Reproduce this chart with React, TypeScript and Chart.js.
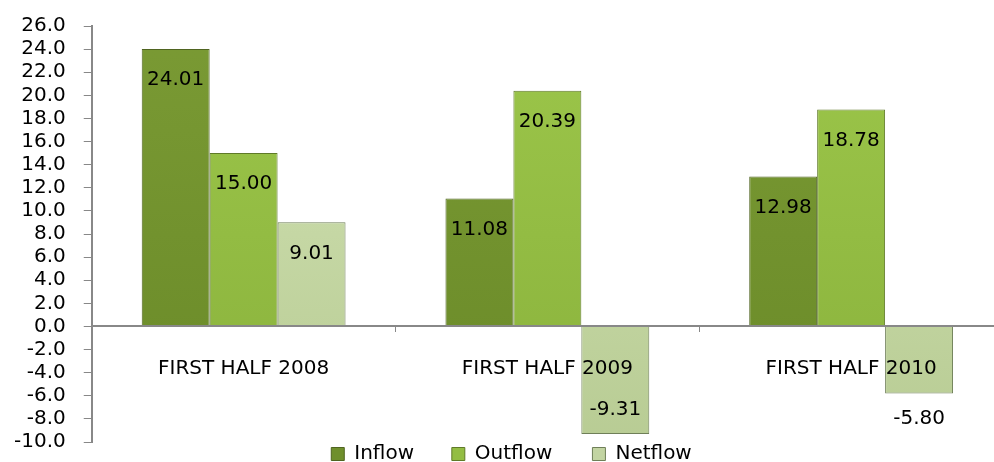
import React, { useEffect, useRef } from "react";
import { Chart, registerables } from "chart.js";

Chart.register(...registerables);

const categories = ["FIRST HALF 2008", "FIRST HALF 2009", "FIRST HALF 2010"];
const inflow = [24.01, 11.08, 12.98];
const outflow = [15.0, 20.39, 18.78];
const netflow = [9.01, -9.31, -5.8];
const seriesNames = ["Inflow", "Outflow", "Netflow"];

const FONT = "'DejaVu Sans', sans-serif";

function makeGrad(ctx: any, chart: any, stops: string[]) {
  const area = chart.chartArea;
  if (!area) return stops[1];
  const g = ctx.createLinearGradient(0, area.top, 0, area.bottom);
  g.addColorStop(0, stops[0]);
  g.addColorStop(1, stops[1]);
  return g;
}

const labelPlugin = {
  id: "barLabels",
  beforeDraw(chart: any) {
    const lg = chart.legend;
    if (lg && !lg._shifted) {
      lg.left += 12;
      lg.right += 12;
      lg._shifted = true;
    }
  },
  afterDatasetsDraw(chart: any) {
    const ctx = chart.ctx;
    ctx.save();
    ctx.font = `20px ${FONT}`;
    ctx.fillStyle = "#000";
    ctx.textAlign = "center";
    ctx.textBaseline = "middle";
    chart.data.datasets.forEach((ds: any, di: number) => {
      const meta = chart.getDatasetMeta(di);
      meta.data.forEach((bar: any, i: number) => {
        const v = ds.data[i] as number;
        const txt = v.toFixed(2);
        const h = Math.abs(bar.base - bar.y);
        let y: number;
        if (v >= 0) y = bar.y + 31;
        else y = h > 85 ? bar.y - 24 : bar.y + 25;
        ctx.fillText(txt, bar.x, y);
      });
    });
    ctx.restore();
  },
};

const legendFill = ["#6f8f2c", "#93bd43", "#c2d4a2"];
const legendStroke = ["#4f6420", "#5f7a28", "#6f7f58"];
const legendPad = [
  "\u00a0\u00a0\u00a0\u00a0\u00a0\u2009",
  "\u00a0\u00a0\u00a0\u00a0\u00a0\u00a0",
  "",
];

export default function App() {
  const ref = useRef<HTMLCanvasElement>(null);
  useEffect(() => {
    const canvas = ref.current!;
    const common = { borderWidth: 1, categoryPercentage: 0.671, barPercentage: 1 };
    const chart = new Chart(canvas, {
      type: "bar",
      data: {
        labels: categories,
        datasets: [
          {
            label: seriesNames[0],
            data: inflow,
            backgroundColor: (c: any) => makeGrad(c.chart.ctx, c.chart, ["#7a9a34", "#6a8a28"]),
            borderColor: "#4f6420",
            ...common,
          },
          {
            label: seriesNames[1],
            data: outflow,
            backgroundColor: (c: any) => makeGrad(c.chart.ctx, c.chart, ["#9cc64a", "#8ab23c"]),
            borderColor: "#5f7a28",
            ...common,
          },
          {
            label: seriesNames[2],
            data: netflow,
            backgroundColor: (c: any) => makeGrad(c.chart.ctx, c.chart, ["#d2e2b4", "#b8cc94"]),
            borderColor: "#6f7f58",
            ...common,
          },
        ],
      },
      options: {
        animation: false,
        responsive: false,
        maintainAspectRatio: false,
        layout: { padding: { top: 13, left: -4, right: 0, bottom: -10 } },
        plugins: {
          tooltip: { enabled: false },
          legend: {
            position: "bottom",
            labels: {
              font: { family: FONT, size: 20 },
              color: "#000",
              boxWidth: 13,
              boxHeight: 13,
              padding: 2,
              generateLabels: (ch: any) =>
                ch.data.datasets.map((ds: any, i: number) => ({
                  text: ds.label + legendPad[i],
                  fillStyle: legendFill[i],
                  strokeStyle: legendStroke[i],
                  lineWidth: 1,
                  datasetIndex: i,
                  hidden: false,
                })),
            },
          },
        },
        scales: {
          x: {
            position: { y: 0 } as any,
            grid: { display: true, drawOnChartArea: false, tickLength: 5, color: "#888", offset: true, z: 1 },
            border: { display: true, color: "#888", width: 2, z: 1 },
            ticks: { font: { family: FONT, size: 20 }, color: "#000", padding: 25, autoSkip: false, maxRotation: 0, z: 1 },
          } as any,
          y: {
            min: -10,
            max: 26,
            grid: { display: true, drawOnChartArea: false, tickLength: 8, color: "#888" },
            border: { display: true, color: "#888", width: 2 },
            ticks: {
              stepSize: 2,
              autoSkip: false,
              font: { family: FONT, size: 20 },
              color: "#000",
              padding: 18,
              callback: (v: any) => Number(v).toFixed(1),
            },
          },
        },
      } as any,
      plugins: [labelPlugin],
    });
    return () => chart.destroy();
  }, []);
  return (
    <div style={{ position: "fixed", left: 0, top: 0, width: 994, height: 462, overflow: "hidden", background: "#fff" }}>
      <canvas
        ref={ref}
        width={1003}
        height={476}
        style={{ width: 1003, height: 476, display: "block", marginTop: -4 }}
      />
    </div>
  );
}
